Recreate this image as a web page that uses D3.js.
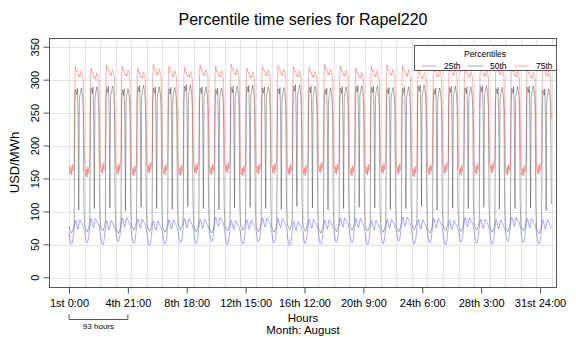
<!DOCTYPE html>
<html>
<head>
<meta charset="utf-8">
<script src="https://cdn.jsdelivr.net/npm/d3@7"></script>
<style>
  body { margin: 0; background: #fff; }
  svg { display: block; font-family: "Liberation Sans", Arial, Helvetica, sans-serif; }
</style>
</head>
<body>
<svg id="chart" width="576" height="338"></svg>
<script>
// typical hourly shape of each percentile (hour 0 .. 23), USD/MWh
const p25Profile = [70, 62, 56, 52, 51, 53, 58, 66, 75, 84, 88, 86, 80, 76, 74, 78, 85, 88, 86, 84, 82, 80, 78, 74];
const p50Profile = [80, 76, 74, 72, 70, 72, 75, 78, 85, 265, 288, 286, 280, 290, 240, 105, 272, 280, 285, 290, 284, 276, 255, 115];
const p75Profile = [170, 165, 158, 168, 156, 172, 162, 170, 175, 305, 321, 316, 313, 314, 309, 306, 308, 305, 310, 314, 311, 307, 302, 240];

// day by day level shift (days 1 .. 31)
const p25DayShift = [0, 2, -1, 3, 1, -2, 0, 2, 1, 4, -1, 0, 3, 2, -2, 1, 0, 3, 2, -1, 1, 4, 0, 2, -1, 3, 1, 0, 4, 2, 0];
const p50DayShift = [-2, 0, 1, -3, 2, 0, -1, 3, 0, -2, 1, 2, 0, -1, 3, 1, -2, 0, 2, 1, -1, 0, 3, -2, 1, 0, 2, -1, 0, 1, -3];
const p75DayShift = [0, -3, 2, 1, -2, 3, 0, -1, 2, 0, 3, -2, 1, 2, 0, -1, 3, 1, -2, 0, 2, 1, -3, 0, 2, -1, 1, 3, 0, -2, 1];

const tickHours = [0, 93, 186, 279, 372, 465, 558, 651, 744];
const tickLabels = ["1st 0:00", "4th 21:00", "8th 18:00", "12th 15:00", "16th 12:00", "20th 9:00", "24th 6:00", "28th 3:00", "31st 24:00"];
const yTicks = [0, 50, 100, 150, 200, 250, 300, 350];

const seriesNames = ["25th", "50th", "75th"];
const seriesColors = ["rgba(0,0,255,0.45)", "rgba(0,0,0,0.45)", "rgba(255,0,0,0.42)"];

function build(profile, shift) {
  const out = [];
  shift.forEach((s, d) => profile.forEach((v, h) => out.push({hour: d * 24 + h, value: v + s})));
  return out;
}
const series = [build(p25Profile, p25DayShift), build(p50Profile, p50DayShift), build(p75Profile, p75DayShift)];

const plot = {left: 49, right: 557, top: 38, bottom: 287};

const svg = d3.select("#chart");

// data scale (hours of the month)
const x = d3.scaleLinear()
  .domain([0, 744])
  .range([69, 552]);
// the hour labels of the original sit on a slightly narrower spacing
const xLab = d3.scaleLinear()
  .domain([0, 744])
  .range([69, 540]);
const y = d3.scaleLinear()
  .domain([-14, 364])
  .range([plot.bottom, plot.top]);

// grid
const grid = svg.append("g").attr("stroke", "#e3e3e3").attr("stroke-width", 1);
grid.selectAll("line.h")
  .data(yTicks)
  .join("line")
  .attr("x1", plot.left).attr("x2", plot.right)
  .attr("y1", d => Math.round(y(d)) + 0.5).attr("y2", d => Math.round(y(d)) + 0.5);
grid.selectAll("line.v")
  .data(d3.range(0, 745, 24))
  .join("line")
  .attr("x1", d => Math.round(x(d)) + 0.5).attr("x2", d => Math.round(x(d)) + 0.5)
  .attr("y1", plot.top).attr("y2", plot.bottom);

// lines
const line = d3.line()
  .x(d => x(d.hour))
  .y(d => y(d.value));
svg.append("g")
  .selectAll("path")
  .data(series)
  .join("path")
  .attr("fill", "none")
  .attr("stroke", (d, i) => seriesColors[i])
  .attr("stroke-width", 0.75)
  .attr("d", line);

// box
svg.append("rect")
  .attr("x", plot.left + 0.5).attr("y", plot.top + 0.5)
  .attr("width", plot.right - plot.left - 1).attr("height", plot.bottom - plot.top)
  .attr("fill", "none").attr("stroke", "#555");

// axes
const xAxis = d3.axisBottom(xLab)
  .tickValues(tickHours)
  .tickFormat((d, i) => tickLabels[i])
  .tickSize(6)
  .tickPadding(6);
const gx = svg.append("g")
  .attr("transform", `translate(0, ${plot.bottom + 0.5})`)
  .call(xAxis);
gx.select(".domain").remove();
gx.selectAll("line").attr("stroke", "#555");
gx.selectAll("text").attr("font-size", 11).attr("fill", "#000").attr("font-family", null);

const yAxis = d3.axisLeft(y)
  .tickValues(yTicks)
  .tickSize(6)
  .tickPadding(4);
const gy = svg.append("g")
  .attr("transform", `translate(${plot.left + 0.5}, 0)`)
  .call(yAxis);
gy.select(".domain").remove();
gy.selectAll("line").attr("stroke", "#555");
gy.selectAll(".tick").attr("transform", null);
gy.selectAll(".tick line").attr("y1", d => y(d)).attr("y2", d => y(d)).attr("x2", -6);
gy.selectAll("text")
  .attr("font-size", 11).attr("fill", "#000").attr("font-family", null)
  .attr("x", null).attr("dy", null).attr("y", 0)
  .attr("text-anchor", "middle")
  .attr("transform", d => `translate(-11, ${y(d)}) rotate(-90)`);

// titles
svg.append("text")
  .attr("x", (plot.left + plot.right) / 2).attr("y", 25)
  .attr("text-anchor", "middle").attr("font-size", 16)
  .text("Percentile time series for Rapel220");
svg.append("text")
  .attr("transform", `translate(19, ${(plot.top + plot.bottom) / 2}) rotate(-90)`)
  .attr("text-anchor", "middle").attr("font-size", 13)
  .text("USD/MWh");
svg.append("text")
  .attr("x", (plot.left + plot.right) / 2).attr("y", 322)
  .attr("text-anchor", "middle").attr("font-size", 11.5)
  .text("Hours");
svg.append("text")
  .attr("x", (plot.left + plot.right) / 2).attr("y", 334)
  .attr("text-anchor", "middle").attr("font-size", 11.5)
  .text("Month: August");

// 93 hours bracket
const br = svg.append("g").attr("stroke", "#555").attr("fill", "none");
br.append("path")
  .attr("d", `M${xLab(tickHours[0])},314.5V319.5H${xLab(tickHours[1])}V314.5`);
svg.append("text")
  .attr("x", (xLab(tickHours[0]) + xLab(tickHours[1])) / 2).attr("y", 329)
  .attr("text-anchor", "middle").attr("font-size", 8)
  .text("93 hours");

// legend
const lg = svg.append("g").attr("transform", "translate(414, 45)");
lg.append("rect")
  .attr("x", 0.5).attr("y", 0.5).attr("width", 142).attr("height", 25)
  .attr("fill", "#fff").attr("stroke", "#555");
lg.append("text")
  .attr("x", 71).attr("y", 12)
  .attr("text-anchor", "middle").attr("font-size", 8.5)
  .text("Percentiles");
const items = lg.selectAll("g.item")
  .data(seriesNames)
  .join("g")
  .attr("transform", (d, i) => `translate(${8 + i * 46}, 21)`);
items.append("line")
  .attr("x1", 0).attr("x2", 15).attr("y1", 0).attr("y2", 0)
  .attr("stroke", (d, i) => seriesColors[i]).attr("stroke-width", 0.8);
items.append("text")
  .attr("x", 22).attr("y", 3)
  .attr("font-size", 8.5)
  .text(d => d);
</script>
</body>
</html>
